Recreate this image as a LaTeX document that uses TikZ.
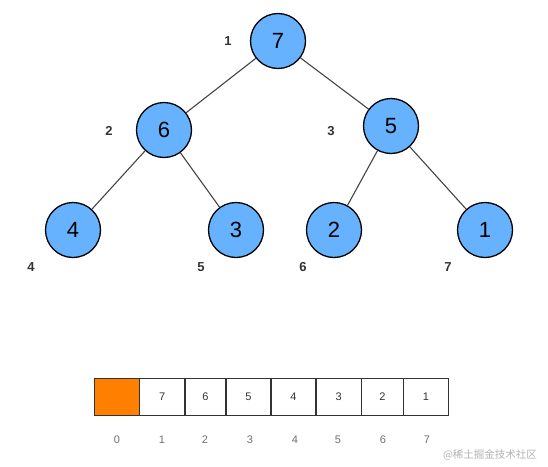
\documentclass[tikz,border=0pt]{standalone}
\usepackage{fontspec}
\setmainfont{Liberation Sans}
\newfontfamily\cjk{Noto Sans CJK SC}
\definecolor{nodeblue}{HTML}{66B2FF}
\definecolor{arrorange}{HTML}{FF8000}
\definecolor{edgegray}{HTML}{444444}
\definecolor{boxgray}{HTML}{333333}
\begin{document}
\begin{tikzpicture}[x=1pt,y=-1pt,
  heapnode/.style={circle,draw=black,line width=1.3pt,fill=nodeblue,minimum size=55pt,inner sep=0pt,font=\fontsize{22}{22}\selectfont},
  idxlabel/.style={font=\bfseries\fontsize{13}{13}\selectfont,text=boxgray},
  edge/.style={draw=edgegray,line width=1.1pt},
  cell/.style={draw=boxgray,line width=1.2pt,minimum height=37pt,inner sep=0pt,font=\fontsize{11}{11}\selectfont,text=boxgray},
  arridx/.style={font=\fontsize{11}{11}\selectfont,text=boxgray!70}
]
\useasboundingbox (0,0) rectangle (548,466);
\node[heapnode] (n1) at (278,41) {7};
\node[heapnode] (n2) at (164,130) {6};
\node[heapnode] (n3) at (391,126) {5};
\node[heapnode] (n4) at (73,230) {4};
\node[heapnode] (n5) at (236,230) {3};
\node[heapnode] (n6) at (334,230) {2};
\node[heapnode] (n7) at (485,230) {1};
\path[edge] (n1) -- (n2);
\path[edge] (n1) -- (n3);
\path[edge] (n2) -- (n4);
\path[edge] (n2) -- (n5);
\path[edge] (n3) -- (n6);
\path[edge] (n3) -- (n7);
\node[idxlabel] (l1) at (228,41) {1};
\node[idxlabel] (l2) at (109,131) {2};
\node[idxlabel] (l3) at (331,131) {3};
\node[idxlabel] (l4) at (31,267) {4};
\node[idxlabel] (l5) at (201,267) {5};
\node[idxlabel] (l6) at (303,267) {6};
\node[idxlabel] (l7) at (448,267) {7};
% array
\node[cell,fill=arrorange,minimum width=45pt] (c0) at (117,397) {};
\node[cell,minimum width=45.5pt] (c1) at (162.25,397) {7};
\node[cell,minimum width=41pt] (c2) at (205.5,397) {6};
\node[cell,minimum width=45pt] (c3) at (248.5,397) {5};
\node[cell,minimum width=45pt] (c4) at (293.5,397) {4};
\node[cell,minimum width=45.5pt] (c5) at (338.75,397) {3};
\node[cell,minimum width=41.5pt] (c6) at (382.5,397) {2};
\node[cell,minimum width=45pt] (c7) at (426,397) {1};
\node[arridx] (i0) at (117,440) {0};
\node[arridx] (i1) at (162,440) {1};
\node[arridx] (i2) at (205,440) {2};
\node[arridx] (i3) at (250,440) {3};
\node[arridx] (i4) at (295,440) {4};
\node[arridx] (i5) at (338,440) {5};
\node[arridx] (i6) at (383,440) {6};
\node[arridx] (i7) at (427,440) {7};
\node[font=\cjk\fontsize{10.5}{10.5}\selectfont,text=black!30] (wm) at (490,455) {@稀土掘金技术社区};
\end{tikzpicture}
\end{document}
